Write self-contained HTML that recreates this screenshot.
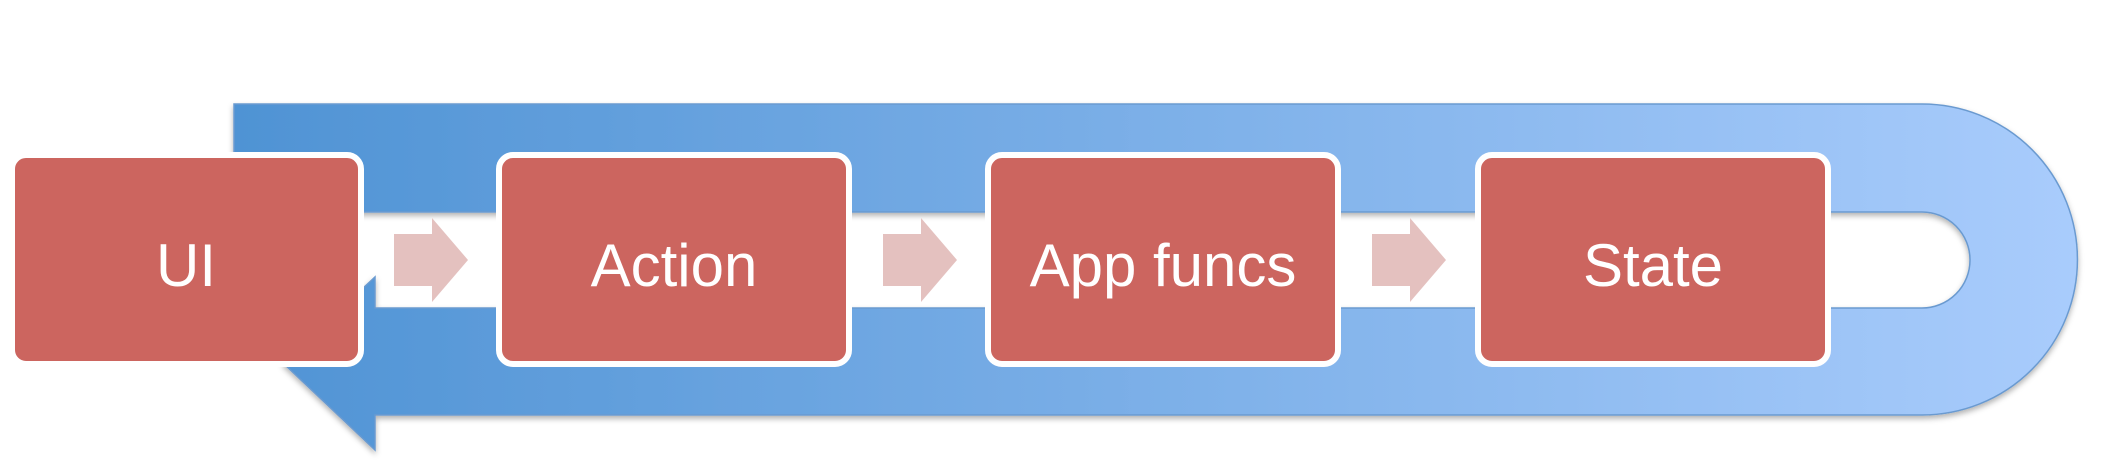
<!DOCTYPE html>
<html><head><meta charset="utf-8"><style>
html,body{margin:0;padding:0;background:#fff;}
svg{display:block;}
text{font-family:"Liberation Sans",sans-serif;fill:#fff;font-size:60px;}
</style></head><body>
<svg width="2110" height="470" viewBox="0 0 2110 470" xmlns="http://www.w3.org/2000/svg">
<defs>
<linearGradient id="g" x1="234" y1="0" x2="2078" y2="0" gradientUnits="userSpaceOnUse">
<stop offset="0" stop-color="#4f93d4"/>
<stop offset="1" stop-color="#a9ccfc"/>
</linearGradient>
<filter id="sh" x="-5%" y="-10%" width="110%" height="130%">
<feDropShadow dx="0" dy="3" stdDeviation="3" flood-color="#000" flood-opacity="0.3"/>
</filter>
</defs>
<path d="M234,104 H1922 A155.5,155.5 0 0 1 1922,415 H375 V450 L283,363 L375,277 V308 H1922 A48,48 0 0 0 1922,212 H234 Z" fill="url(#g)" stroke="#6a9ad0" stroke-width="1.5" filter="url(#sh)"/>
<g fill="#cc655f" stroke="#fff" stroke-width="6">
<rect x="12" y="155" width="349" height="209" rx="14"/>
<rect x="499" y="155" width="350" height="209" rx="14"/>
<rect x="988" y="155" width="350" height="209" rx="14"/>
<rect x="1478" y="155" width="350" height="209" rx="14"/>
</g>
<g fill="#e4c1bf">
<polygon points="394,234 432,234 432,218 468,260 432,302 432,286 394,286"/>
<polygon points="883,234 921,234 921,218 957,260 921,302 921,286 883,286"/>
<polygon points="1372,234 1410,234 1410,218 1446,260 1410,302 1410,286 1372,286"/>
</g>
<text x="186" y="286" text-anchor="middle">UI</text>
<text x="674" y="286" text-anchor="middle">Action</text>
<text x="1163" y="286" text-anchor="middle">App funcs</text>
<text x="1653" y="286" text-anchor="middle">State</text>
</svg>
</body></html>
